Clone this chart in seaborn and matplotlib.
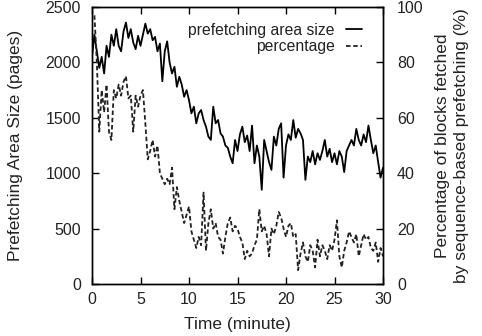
import numpy as np
import pandas as pd
import matplotlib
matplotlib.use("Agg")
import matplotlib.pyplot as plt
import seaborn as sns

# time in minutes (0.25 min step)
time = [i * 0.25 for i in range(121)]

area_size = [
    2050, 2250, 2100, 1950, 2050, 1900, 2150, 2050, 2250, 2150,
    2300, 2150, 2100, 2280, 2360, 2220, 2300, 2180, 2120, 2240,
    2150, 2250, 2350, 2260, 2300, 2200, 2230, 2100, 2170, 1830,
    2100, 2190, 2000, 1900, 1960, 1780, 1870, 1800, 1690, 1750,
    1660, 1540, 1600, 1450, 1540, 1570, 1480, 1420, 1330, 1300,
    1600, 1450, 1480, 1360, 1330, 1250, 1230, 1150, 1090, 1300,
    1200, 1350, 1420, 1280, 1340, 1200, 1430, 1090, 1250, 1150,
    850, 1300, 1200, 1100, 1030, 1330, 1250, 1400, 1450, 960,
    1250, 1350, 1300, 1480, 1320, 1400, 1360, 1300, 940, 1150,
    1100, 1200, 1080, 1180, 1120, 1200, 1300, 1150, 1220, 1100,
    1180, 1080, 1200, 1150, 1010, 1200, 1250, 1300, 1250, 1400,
    1300, 1250, 1350, 1280, 1430, 1300, 1180, 1250, 1100, 960,
    1050,
]

# percentage series starts at t = 0.25
time_pct = time[1:]
percentage = [
    97, 80, 55, 70, 62, 72, 55, 52, 70,
    67, 72, 68, 73, 75, 67, 68, 55, 68, 64,
    68, 70, 58, 45, 48, 52, 46, 50, 40, 38,
    36, 38, 36, 42, 27, 35, 30, 26, 22, 25,
    28, 19, 16, 13, 17, 14, 33, 12, 22, 27,
    20, 22, 17, 16, 11, 17, 22, 24, 19, 21,
    20, 17, 15, 9, 12, 10, 11, 14, 16, 27,
    19, 21, 18, 10, 20, 18, 21, 26, 24, 20,
    17, 21, 22, 17, 18, 5, 11, 15, 10, 8,
    14, 12, 6, 16, 10, 14, 12, 9, 14, 12,
    16, 23, 10, 6, 12, 15, 19, 17, 15, 18,
    10, 14, 18, 16, 17, 13, 12, 15, 8, 13,
    10,
]

x_ticks = [0, 5, 10, 15, 20, 25, 30]
left_ticks = [0, 500, 1000, 1500, 2000, 2500]
right_ticks = [0, 20, 40, 60, 80, 100]

sns.set_style("ticks")
plt.rcParams['font.family'] = ['Liberation Sans', 'DejaVu Sans']

fig = plt.figure(figsize=(4.82, 3.36), dpi=100)
ax = fig.add_axes([92 / 482, 1 - 284 / 336, (383 - 92) / 482, (284 - 7) / 336])
ax2 = ax.twinx()

df1 = pd.DataFrame({"t": time, "v": area_size})
df2 = pd.DataFrame({"t": time_pct, "v": percentage})

sns.lineplot(data=df1, x="t", y="v", ax=ax, color="black", lw=1.3,
             label="prefetching area size", legend=False)
sns.lineplot(data=df2, x="t", y="v", ax=ax2, color="#222222", lw=1.3,
             dashes=False, label="percentage", legend=False)
ax2.lines[0].set_dashes([2.5, 1.5])

ax.set_xlim(0, 30)
ax.set_ylim(0, 2500)
ax2.set_ylim(0, 100)
ax.set_xticks(x_ticks)
ax.set_yticks(left_ticks)
ax2.set_yticks(right_ticks)

fs_tick = 11.5
fs_lab = 12.5
fs_leg = 11.3
tc = "#222222"
ax.tick_params(axis="both", direction="in", length=5, width=1, labelsize=fs_tick,
               top=True, color="black", labelcolor=tc)
ax.tick_params(axis="y", pad=8)
ax.tick_params(axis="x", pad=6)
ax2.tick_params(axis="y", direction="in", length=5, width=1, labelsize=fs_tick,
                pad=10, color="black", labelcolor=tc)

for a in (ax, ax2):
    for s in a.spines.values():
        s.set_visible(True)
        s.set_linewidth(1.0)
        s.set_color("black")

ax.set_xlabel("Time (minute)", fontsize=fs_lab, color=tc, labelpad=7)
ax.set_ylabel("Prefetching Area Size (pages)", fontsize=fs_lab, color=tc, labelpad=16)
ax2.set_ylabel("Percentage of blocks fetched\nby sequence-based prefetching (%)",
               fontsize=fs_lab, color=tc, labelpad=8, rotation=90,
               linespacing=1.35)

h1, l1 = ax.get_legend_handles_labels()
h2, l2 = ax2.get_legend_handles_labels()
leg = ax2.legend(h1 + h2, l1 + l2, loc="upper right", frameon=False,
                 markerfirst=False, fontsize=fs_leg, handlelength=1.0,
                 handletextpad=0.7, borderaxespad=0.5, labelspacing=0.1,
                 bbox_to_anchor=(0.975, 0.995))
for t in leg.get_texts():
    t.set_ha("right")
    t.set_color(tc)
leg._legend_box.align = "right"

fig.savefig("out.png", dpi=100)
